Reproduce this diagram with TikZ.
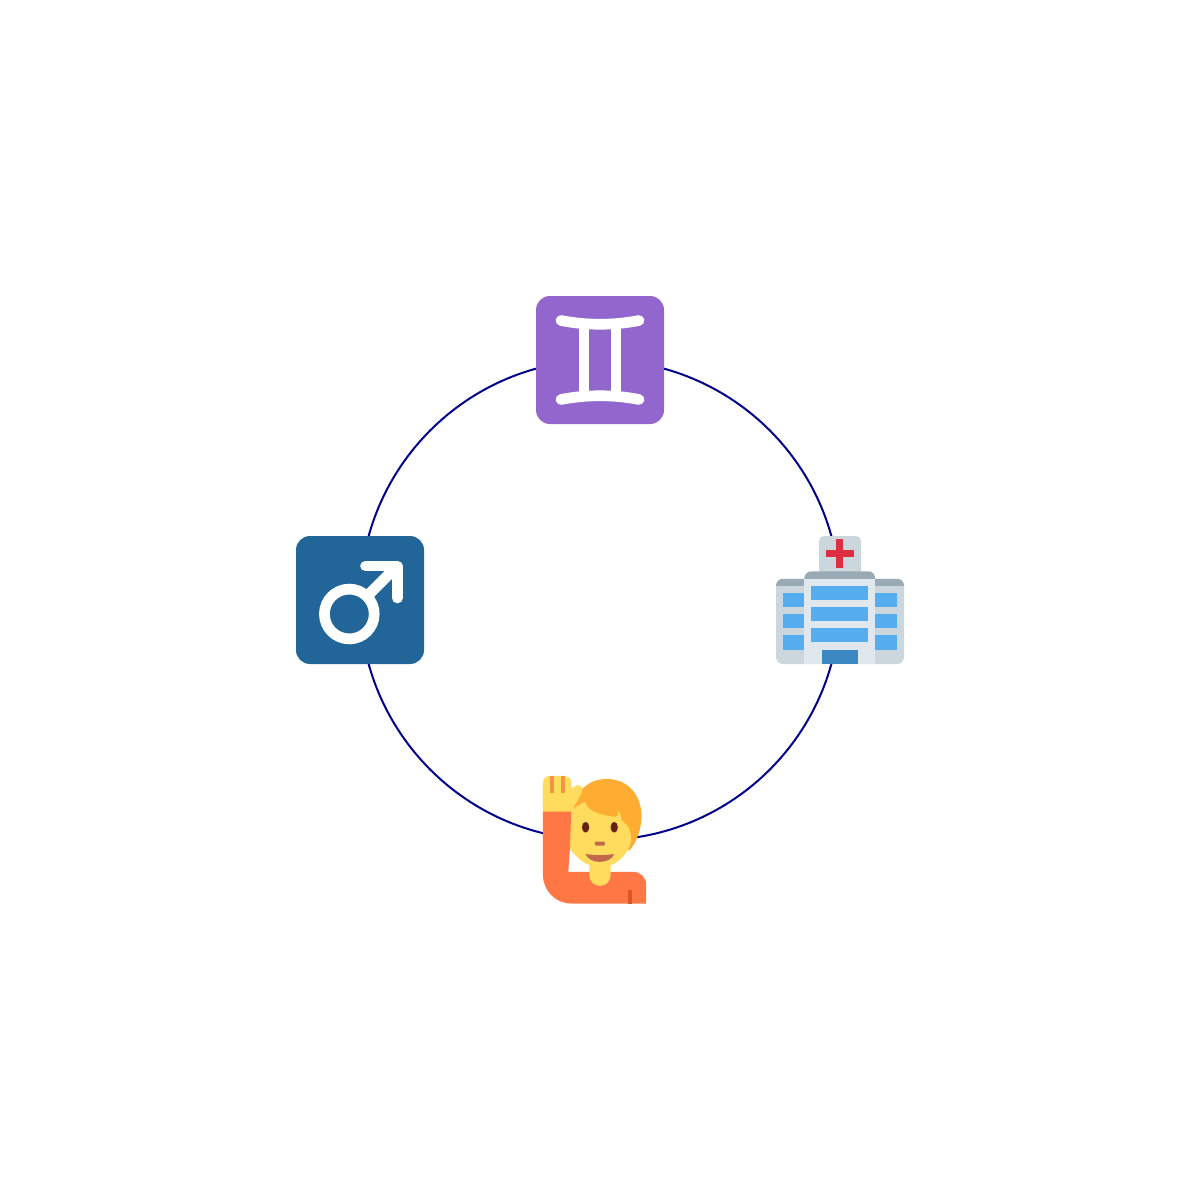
\documentclass[tikz,border=0pt]{standalone}
\definecolor{ringblue}{RGB}{0,0,139}
\definecolor{geminipurple}{HTML}{9266CC}
\definecolor{maleblue}{HTML}{226699}
\definecolor{wallgray}{HTML}{CCD6DD}
\definecolor{roofgray}{HTML}{99AAB5}
\definecolor{frontgray}{HTML}{E1E8ED}
\definecolor{crossred}{HTML}{DD2E44}
\definecolor{glassblue}{HTML}{55ACEE}
\definecolor{doorblue}{HTML}{3B88C3}
\definecolor{shirtorange}{HTML}{FF7745}
\definecolor{stripeorange}{HTML}{DD551F}
\definecolor{skinyellow}{HTML}{FFDC5D}
\definecolor{hairorange}{HTML}{FFAC33}
\definecolor{linetan}{HTML}{EF9645}
\definecolor{eyebrown}{HTML}{662113}
\definecolor{mouthbrown}{HTML}{C1694F}
\tikzset{
  ring/.style={draw=ringblue, line width=0.2mm, looseness=0.997},
  tile/.style={rounded corners=1.4mm},
  glyph/.style={draw=white, line width=1.07mm, line cap=round},
}
\begin{document}
\begin{tikzpicture}[x=0.1mm,y=-0.1mm]
\useasboundingbox (0,0) rectangle (1200,1200);

\coordinate (gemini) at (600,360);
\coordinate (hospital) at (840,600);
\coordinate (person) at (600,840);
\coordinate (male) at (360,600);

\draw[ring] (gemini) to[out=0,in=90] (hospital);
\draw[ring] (hospital) to[out=-90,in=0] (person);
\draw[ring] (person) to[out=180,in=-90] (male);
\draw[ring] (male) to[out=90,in=180] (gemini);

% gemini
\fill[geminipurple, tile] (536,296) rectangle (664,424);
\draw[glyph] (561,320.5) .. controls (586,325.5) and (614,325.5) .. (639,320.5);
\draw[glyph] (561,399.5) .. controls (586,394.5) and (614,394.5) .. (639,399.5);
\draw[glyph, line cap=butt] (584,324) -- (584,396);
\draw[glyph, line cap=butt] (616,324) -- (616,396);

% male sign
\fill[maleblue, tile] (296,536) rectangle (424,664);
\draw[glyph] (349.3,614) circle (24.9);
\draw[glyph, line join=round] (365.5,566) -- (397.3,566) -- (397.3,598);
\draw[glyph, line cap=butt] (397.3,566) -- (368,595.3);

% hospital
\fill[wallgray, rounded corners=0.5mm] (819,536) rectangle (861,580);
\fill[crossred] (836,539.3) rectangle (843.3,568);
\fill[crossred] (825.7,550) rectangle (854,557.3);
\fill[wallgray, rounded corners=0.7mm] (776,578.7) rectangle (904,664);
\begin{scope}
\clip[rounded corners=0.7mm] (776,578.7) rectangle (904,664);
\fill[roofgray] (776,578.7) rectangle (904,585.7);
\end{scope}
\fill[frontgray] (804.3,578) rectangle (875.3,664);
\begin{scope}
\clip[rounded corners=0.7mm] (804.3,571.3) rectangle (875.3,600);
\fill[roofgray] (804.3,571.3) rectangle (875.3,578.7);
\end{scope}
\foreach \y in {585.7,607,628.3} \fill[glassblue] (811.3,\y) rectangle (868.3,\y+14);
\foreach \y in {593,614,635.3} {
  \fill[glassblue] (783,\y) rectangle (804.3,\y+14.3);
  \fill[glassblue] (875.3,\y) rectangle (897,\y+14.3);
}
\fill[doorblue] (822,649.7) rectangle (857.7,664);

% person, in coordinates of a third of a pixel
\begin{scope}[shift={(520,760)},x=0.0333mm,y=-0.0333mm]
\fill[hairorange] (150,160) .. controls (160,115) and (190,57) .. (260,57)
  .. controls (325,57) and (365,105) .. (365,170)
  .. controls (365,205) and (350,250) .. (328,272) -- (200,200) -- cycle;
\fill[skinyellow] (153,150) -- (147,264) .. controls (175,300) and (205,322) .. (240,322)
  .. controls (285,322) and (320,290) .. (332,250)
  .. controls (337,225) and (330,195) .. (304,181)
  .. controls (306,170) and (302,158) .. (292,152)
  .. controls (296,165) and (293,172) .. (285,171)
  .. controls (250,165) and (205,160) .. (195,125) -- cycle;
\fill[shirtorange] (69,150) -- (154,150) -- (150,265) -- (145,336) -- (340,336)
  .. controls (362,336) and (379,353) .. (379,375) -- (379,431) -- (154,431)
  .. controls (107,431) and (69,393) .. (69,345) -- cycle;
\fill[skinyellow] (208,310) -- (272,310) -- (272,346)
  .. controls (272,364) and (258,378) .. (240,378)
  .. controls (222,378) and (208,364) .. (208,346) -- cycle;
\fill[stripeorange] (325,390) rectangle (336,431);
\fill[skinyellow] (69,155) -- (69,68) .. controls (69,57) and (78,48) .. (89,48)
  -- (134,48) .. controls (145,48) and (154,57) .. (154,68) -- (154,86)
  .. controls (165,78) and (182,66) .. (187,88)
  .. controls (187,100) and (170,125) .. (154,155) -- cycle;
\fill[linetan] (90,48) rectangle (102,100);
\fill[linetan] (122,48) rectangle (134,100);
\fill[eyebrown] (197,202) ellipse (11 and 16);
\fill[eyebrown] (283,202) ellipse (11 and 16);
\fill[mouthbrown, rounded corners=0.15mm] (224,245) rectangle (256,257);
\fill[mouthbrown] (197,282) .. controls (225,287) and (255,287) .. (283,282)
  .. controls (272,314) and (208,314) .. (197,282) -- cycle;
\end{scope}
\end{tikzpicture}
\end{document}
